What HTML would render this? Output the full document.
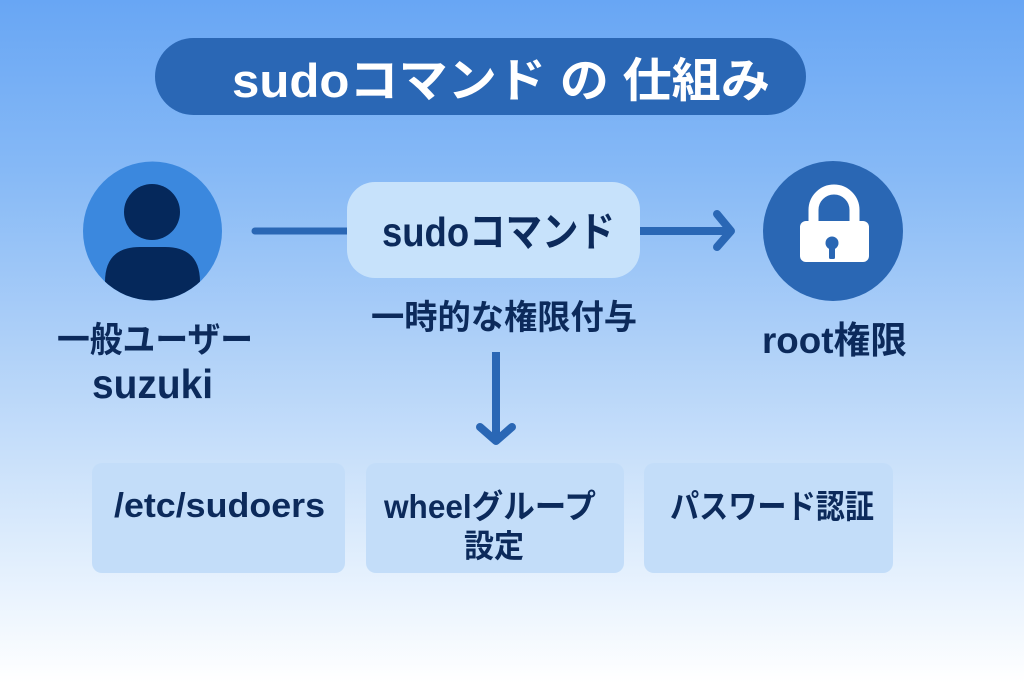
<!DOCTYPE html>
<html><head><meta charset="utf-8"><style>
html,body{margin:0;padding:0;width:1024px;height:683px;overflow:hidden;}
svg{display:block;}
text{font-family:"Liberation Sans","Noto Sans CJK JP",sans-serif;font-weight:bold;}
</style></head><body>
<svg width="1024" height="683" viewBox="0 0 1024 683" xmlns="http://www.w3.org/2000/svg">
<defs>
<linearGradient id="bg" x1="0" y1="0" x2="0" y2="1">
<stop offset="0" stop-color="#68a6f4"/>
<stop offset="0.25" stop-color="#86b9f6"/>
<stop offset="0.5" stop-color="#aed0f8"/>
<stop offset="0.72" stop-color="#d1e5fb"/>
<stop offset="0.88" stop-color="#ebf4fe"/>
<stop offset="1" stop-color="#ffffff"/>
</linearGradient>
<clipPath id="uc"><circle cx="152.5" cy="231" r="69.5"/></clipPath>
</defs>
<rect width="1024" height="683" fill="url(#bg)"/>

<!-- Title pill -->
<rect x="155" y="38" width="651" height="77" rx="38.5" fill="#2a67b5"/>
<text x="232" y="97" font-size="47" fill="#ffffff" textLength="538" lengthAdjust="spacingAndGlyphs">sudoコマンド の 仕組み</text>

<!-- User icon -->
<circle cx="152.5" cy="231" r="69.5" fill="#3b88de"/>
<g clip-path="url(#uc)" fill="#05285b">
<circle cx="152" cy="212" r="28"/>
<path d="M105 310 L105 282 Q105 247 140 247 L165 247 Q200 247 200 282 L200 310 Z"/>
</g>

<!-- Line user -> sudo -->
<line x1="255" y1="231" x2="347" y2="231" stroke="#2a67b5" stroke-width="7" stroke-linecap="round"/>

<!-- sudo box -->
<rect x="347" y="182" width="293" height="96" rx="28" fill="#c7e2fb"/>
<text x="382" y="246" font-size="41" fill="#0c2a5b" textLength="233" lengthAdjust="spacingAndGlyphs">sudoコマンド</text>

<!-- Arrow sudo -> root -->
<line x1="640" y1="231" x2="728" y2="231" stroke="#2a67b5" stroke-width="8"/>
<polyline points="717,214 731,231 717,247" fill="none" stroke="#2a67b5" stroke-width="8" stroke-linecap="round" stroke-linejoin="round"/>

<!-- Lock icon -->
<circle cx="833" cy="231" r="70" fill="#2a67b4"/>
<path d="M813.5 222 L813.5 210 A20.5 20.5 0 0 1 854.5 210 L854.5 222" fill="none" stroke="#ffffff" stroke-width="10"/>
<rect x="800" y="221" width="69" height="41" rx="6" fill="#ffffff"/>
<circle cx="832" cy="243" r="6.5" fill="#2a67b4"/>
<rect x="829" y="244" width="6" height="15" rx="1.5" fill="#2a67b4"/>

<!-- Labels -->
<text x="57" y="352" font-size="35" fill="#0c2a5b" textLength="196" lengthAdjust="spacingAndGlyphs">一般ユーザー</text>
<text x="92" y="398" font-size="41" fill="#0c2a5b" textLength="121" lengthAdjust="spacingAndGlyphs">suzuki</text>
<text x="371" y="329" font-size="34" fill="#0c2a5b" textLength="266" lengthAdjust="spacingAndGlyphs">一時的な権限付与</text>
<text x="762" y="353" font-size="37" fill="#0c2a5b" textLength="145" lengthAdjust="spacingAndGlyphs">root権限</text>

<!-- Down arrow -->
<line x1="496" y1="352" x2="496" y2="436" stroke="#2a67b5" stroke-width="8"/>
<polyline points="480,427 496,441 512,427" fill="none" stroke="#2a67b5" stroke-width="8" stroke-linecap="round" stroke-linejoin="round"/>

<!-- Bottom boxes -->
<rect x="92" y="463" width="253" height="110" rx="10" fill="#c3ddf9"/>
<rect x="366" y="463" width="258" height="110" rx="10" fill="#c3ddf9"/>
<rect x="644" y="463" width="249" height="110" rx="10" fill="#c3ddf9"/>
<text x="114" y="517" font-size="34" fill="#0c2a5b" textLength="211" lengthAdjust="spacingAndGlyphs">/etc/sudoers</text>
<text x="384" y="518" font-size="33" fill="#0c2a5b" textLength="212" lengthAdjust="spacingAndGlyphs">wheelグループ</text>
<text x="464" y="557" font-size="32" fill="#0c2a5b" textLength="60" lengthAdjust="spacingAndGlyphs">設定</text>
<text x="670" y="518" font-size="33" fill="#0c2a5b" textLength="204" lengthAdjust="spacingAndGlyphs">パスワード認証</text>
</svg>
</body></html>
